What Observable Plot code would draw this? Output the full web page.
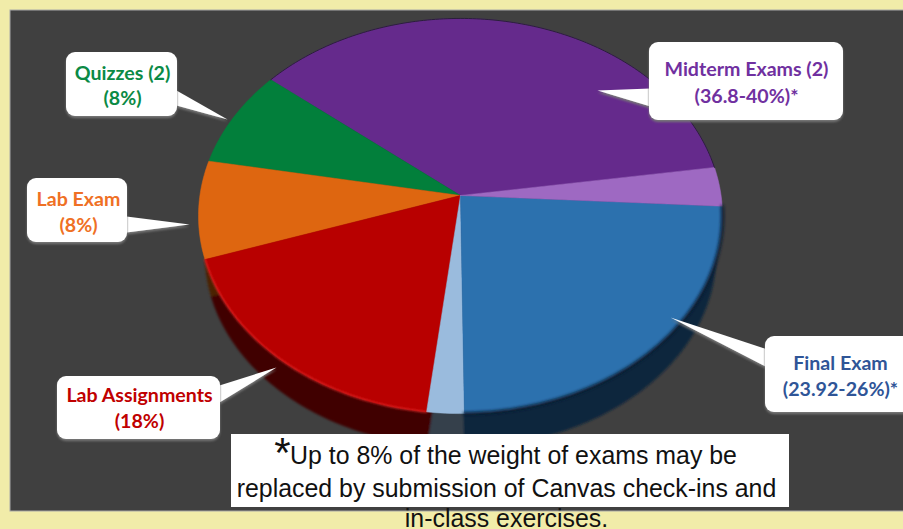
<!DOCTYPE html>
<html>
<head>
<meta charset="utf-8">
<script src="https://cdn.jsdelivr.net/npm/d3@7"></script>
<script src="https://cdn.jsdelivr.net/npm/@observablehq/plot@0.6"></script>
<style>html,body{margin:0;padding:0;background:#f1eca9;overflow:hidden}svg{display:block}</style>
</head>
<body>
<div id="chart"></div>
<script>
// Slices, in drawing order (counter-clockwise from the right)
const categories = ["Midterm Exams", "Quizzes", "Lab Exam", "Lab Assignments", "Final Exam (replaceable)", "Final Exam", "Midterm Exams (replaceable)"];
const values = [36.8, 8, 8, 18, 2.08, 23.92, 3.2];
const colors = ["#652a8c", "#027f3b", "#de6610", "#b80000", "#9abbdd", "#2c71ae", "#9e69c2"];

// Callouts
const labelLine1 = ["Midterm Exams (2)", "Quizzes (2)", "Lab Exam", "Lab Assignments", "Final Exam"];
const labelLine2 = ["(36.8-40%)*", "(8%)", "(8%)", "(18%)", "(23.92-26%)*"];
const labelColors = ["#7030a0", "#0b8a45", "#ef7024", "#c00000", "#2f5597"];
const note = ["Up to 8% of the weight of exams may be", "replaced by submission of Canvas check-ins and", "in-class exercises."];

// Layout of the picture (pixel-like units of the x and y scales)
const boxes = [[649, 843, 42, 120, 746, 69, 96], [66, 177, 52, 116, 122, 73, 98], [27, 127, 178, 242, 78, 199, 225], [57, 220, 376, 439, 139, 395, 421], [765, 920, 336, 412, 840, 363, 389]];
const tails = [[[650, 88], [597, 90], [650, 106]], [[176, 90], [227, 119], [176, 105]], [[126, 216], [189, 224], [126, 232]], [[219, 385], [276, 367], [219, 402]], [[767, 349], [670, 317], [767, 367]]];
const pie = {cx: 460, cy: 195, R: 260.6, c: 0.75, k: 0.1038, start: 8.4, sideDrop: 39, sideScale: 0.975};

const rad = Math.PI / 180;
const total = d3.sum(values);
function project(deg, drop, scale) {
  const t = deg * rad, den = 1 + pie.k * Math.sin(t);
  return {
    x: pie.cx + scale * pie.R * Math.cos(t) / den,
    y: pie.cy + drop - scale * pie.R * pie.c * Math.sin(t) / den
  };
}
const cum = d3.cumsum(values);
const spans = values.map((v, i) => ({
  name: categories[i],
  color: colors[i],
  a0: pie.start + 360 * (cum[i] - v) / total,
  a1: pie.start + 360 * cum[i] / total
}));
function arcPoints(s, drop, scale) {
  const n = Math.max(2, Math.ceil(s.a1 - s.a0)), pts = [];
  for (let j = 0; j <= n; ++j) {
    const p = project(s.a0 + (s.a1 - s.a0) * j / n, drop, scale);
    pts.push({...p, name: s.name, color: s.color});
  }
  return pts;
}
function wedge(s, drop, scale, fill) {
  const apex = {x: pie.cx, y: pie.cy + drop, name: s.name, color: fill};
  return [apex, ...arcPoints(s, drop, scale).map(p => ({...p, color: fill})), apex];
}
const surface = spans.flatMap(s => wedge(s, 0, 1, s.color));
const side = spans.flatMap(s => wedge(s, pie.sideDrop, pie.sideScale, d3.rgb(s.color).darker(3).formatHex()));
const bySpan = name => spans.find(s => s.name === name);

const tailData = tails.flatMap((t, i) => t.map(([x, y]) => ({x, y, i})));
const boxData = boxes.map(b => ({x1: b[0], x2: b[1], y1: b[2], y2: b[3]}));
const textData = boxes.flatMap((b, i) => [
  {x: b[4], y: b[5], text: labelLine1[i], color: labelColors[i]},
  {x: b[4], y: b[6], text: labelLine2[i], color: labelColors[i]}
]);
const filtered = id => function (index, scales, values, dims, ctx, next) {
  const g = next(index, scales, values, dims, ctx);
  g.setAttribute("filter", `url(#${id})`);
  return g;
};
const defs = () => {
  const d = d3.create("svg:defs");
  const f = d.append("filter").attr("id", "drop").attr("x", "-20%").attr("y", "-20%").attr("width", "140%").attr("height", "150%");
  f.append("feDropShadow").attr("dx", 0).attr("dy", 2).attr("stdDeviation", 1).attr("flood-color", "#777").attr("flood-opacity", 1);
  d.append("filter").attr("id", "soft").append("feGaussianBlur").attr("stdDeviation", 0.8);
  d.append("filter").attr("id", "softer").append("feGaussianBlur").attr("stdDeviation", 1.8);
  return d.node();
};
const noteStyle = {fontFamily: "'Liberation Sans', Arial, sans-serif", fontSize: 24.9, fill: "#111", textAnchor: "middle", lineAnchor: "middle"};

const chart = Plot.plot({
  width: 903,
  height: 529,
  margin: 0,
  style: {background: "#f1eca9"},
  x: {domain: [0, 903], range: [0, 903], axis: null},
  y: {domain: [0, 529], range: [0, 529], axis: null},
  color: {type: "identity"},
  marks: [
    defs,
    Plot.rect([{x1: 10, x2: 910, y1: 10, y2: 511}], {x1: "x1", x2: "x2", y1: "y1", y2: "y2", fill: "#404040", stroke: "#a8a8a8", strokeWidth: 1}),
    Plot.line(side, {x: "x", y: "y", z: "name", fill: "color", stroke: "color", strokeWidth: 0.5, render: filtered("soft")}),
    Plot.line(surface, {x: "x", y: "y", z: "name", fill: "color", stroke: "color", strokeWidth: 0.5}),
    Plot.line(arcPoints(bySpan("Midterm Exams"), 0, 1), {x: "x", y: "y", stroke: "#2a1f3a", strokeWidth: 1}),
    Plot.line(arcPoints(bySpan("Final Exam"), 0, 1), {x: "x", y: "y", stroke: "#0a1c30", strokeWidth: 3, render: filtered("softer")}),
    Plot.line(arcPoints(bySpan("Lab Assignments"), 0, 1), {x: "x", y: "y", stroke: "#e62a2a", strokeWidth: 1.5, render: filtered("soft")}),
    Plot.line(tailData, {x: "x", y: "y", z: "i", fill: "white", stroke: "none", render: filtered("drop")}),
    Plot.rect(boxData, {x1: "x1", x2: "x2", y1: "y1", y2: "y2", fill: "white", rx: 9, render: filtered("drop")}),
    Plot.text(textData, {x: "x", y: "y", text: "text", fill: "color", fontFamily: "Lato, sans-serif", fontWeight: 700, fontSize: 19.6, textAnchor: "middle", lineAnchor: "middle"}),
    Plot.rect([{x1: 231, x2: 789, y1: 434, y2: 507}], {x1: "x1", x2: "x2", y1: "y1", y2: "y2", fill: "white"}),
    Plot.text(["*"], {x: [282], y: [453], text: d => d, ...noteStyle, fontSize: 42}),
    Plot.text([note[0]], {x: [513], y: [456], text: d => d, ...noteStyle}),
    Plot.text([note[1]], {x: [506], y: [489], text: d => d, ...noteStyle}),
    Plot.text([note[2]], {x: [506], y: [518.5], text: d => d, ...noteStyle})
  ]
});
document.getElementById("chart").append(chart);
</script>
</body>
</html>
